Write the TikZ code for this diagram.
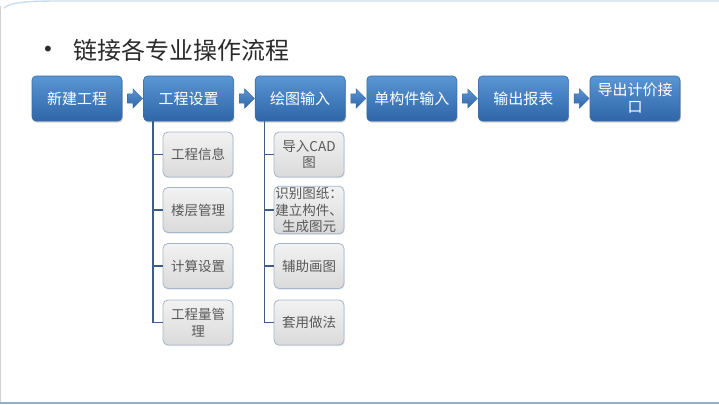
\documentclass[tikz,border=0pt]{standalone}
\usepackage{fontspec}
\setmainfont{Noto Sans CJK SC}
\newfontfamily\bulletfont{DejaVu Sans}
\usetikzlibrary{shadows,shapes.arrows,calc}
\definecolor{boxtop}{HTML}{5A95D4}
\definecolor{boxbot}{HTML}{2F66A8}
\definecolor{boxline}{HTML}{3A6BA5}
\definecolor{subtop}{HTML}{F2F2F2}
\definecolor{subbot}{HTML}{DADADA}
\definecolor{subline}{HTML}{A3B6CA}
\definecolor{subtext}{HTML}{595959}
\definecolor{connclr}{HTML}{3F5E86}
\definecolor{titleclr}{HTML}{2B2B2B}
\definecolor{edgeblue}{HTML}{8FB0C8}
\definecolor{topblue}{HTML}{C8DEF0}
\tikzset{
  mainbox/.style={draw=boxline, line width=0.6pt, rounded corners=4pt,
    top color=boxtop, bottom color=boxbot, minimum width=90pt, minimum height=45pt,
    inner sep=2pt, align=center, text=white, font=\fontsize{15}{17}\selectfont,
    drop shadow={shadow xshift=0.8pt, shadow yshift=-1.6pt, opacity=0.35}},
  subbox/.style={draw=subline, line width=0.8pt, rounded corners=5pt,
    top color=subtop, bottom color=subbot, minimum width=70pt, minimum height=45pt,
    inner sep=1pt, align=center, text=subtext, font=\fontsize{13.5}{16.5}\selectfont,
    drop shadow={shadow xshift=0.6pt, shadow yshift=-1.2pt, opacity=0.2}},
  flowarrow/.style={single arrow, draw=boxline, line width=0.4pt,
    top color=boxtop, bottom color=boxbot, minimum height=15pt, minimum width=19pt,
    inner sep=4.5pt, single arrow head extend=5pt, single arrow head indent=0pt,
    shape border rotate=0},
  conn/.style={draw=connclr, line width=1.8pt},
}
\begin{document}
\begin{tikzpicture}[x=1pt,y=-1pt]
\useasboundingbox (0,0) rectangle (719,404);
\fill[white] (0,0) rectangle (719,404);
% frame decorations
\draw[black!18, line width=1pt] (0.5,6) -- (0.5,404);
\draw[edgeblue, line width=1.6pt] (0,403) -- (719,403);
\draw[topblue, line width=1.4pt] (4,8) .. controls (10,2) and (30,1) .. (60,1) -- (719,1);
% title
\node[font=\bulletfont\fontsize{20}{22}\selectfont, text=titleclr, inner sep=0pt] (bullet) at (48,51) {•};
\node[anchor=west, font=\fontsize{24}{26}\selectfont, text=titleclr, inner sep=0pt] (title) at (73,50.5) {链接各专业操作流程};
% main boxes
\node[mainbox] (b1) at (77,98.5) {新建工程};
\node[mainbox] (b2) at (188.6,98.5) {工程设置};
\node[mainbox] (b3) at (300.2,98.5) {绘图输入};
\node[mainbox] (b4) at (411.8,98.5) {单构件输入};
\node[mainbox] (b5) at (523.4,98.5) {输出报表};
\node[mainbox] (b6) at (635,98.5) {导出计价接\\口};
% arrows
\node[flowarrow] (a1) at ($(b1.east)!0.5!(b2.west)$) {};
\node[flowarrow] (a2) at ($(b2.east)!0.5!(b3.west)$) {};
\node[flowarrow] (a3) at ($(b3.east)!0.5!(b4.west)$) {};
\node[flowarrow] (a4) at ($(b4.east)!0.5!(b5.west)$) {};
\node[flowarrow] (a5) at ($(b5.east)!0.5!(b6.west)$) {};
% sub boxes column 1
\node[subbox] (s1) at (198,154.5) {工程信息};
\node[subbox] (s2) at (198,210) {楼层管理};
\node[subbox] (s3) at (198,266) {计算设置};
\node[subbox] (s4) at (198,322.5) {工程量管\\理};
% sub boxes column 2
\node[subbox] (t1) at (309,154.5) {导入CAD\\图};
\node[subbox] (t2) at (309,210) {识别图纸：\\建立构件、\\生成图元};
\node[subbox] (t3) at (309,266) {辅助画图};
\node[subbox] (t4) at (309,322.5) {套用做法};
% connectors
\foreach \s in {s1,s2,s3,s4}{
  \draw[conn] ([xshift=9.5pt]b2.south west) |- (\s.west);
}
\foreach \s in {t1,t2,t3,t4}{
  \draw[conn] ([xshift=9.5pt]b3.south west) |- (\s.west);
}
\end{tikzpicture}
\end{document}
